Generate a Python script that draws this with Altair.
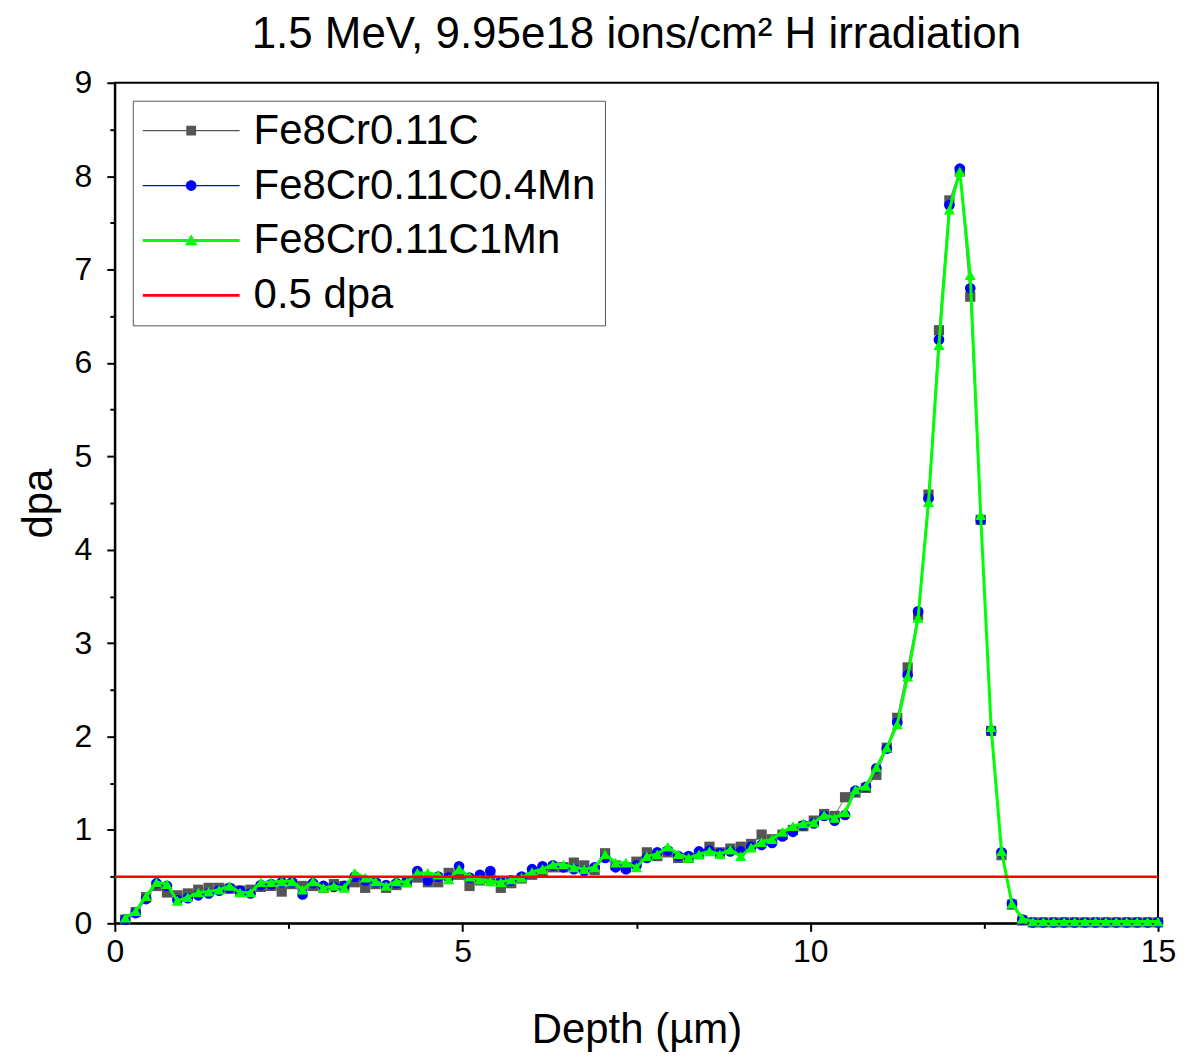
import altair as alt
import pandas as pd

# ---------------- data ----------------
depth = [0.15, 0.30, 0.45, 0.60, 0.75, 0.90, 1.05, 1.20, 1.35, 1.50,
         1.65, 1.80, 1.95, 2.10, 2.25, 2.40, 2.55, 2.70, 2.85, 3.00,
         3.15, 3.30, 3.45, 3.60, 3.75, 3.90, 4.05, 4.20, 4.35, 4.50,
         4.65, 4.80, 4.95, 5.10, 5.25, 5.40, 5.55, 5.70, 5.85, 6.00,
         6.15, 6.30, 6.45, 6.60, 6.75, 6.90, 7.05, 7.20, 7.35, 7.50,
         7.65, 7.80, 7.95, 8.10, 8.25, 8.40, 8.55, 8.70, 8.85, 9.00,
         9.15, 9.30, 9.45, 9.60, 9.75, 9.90, 10.05, 10.20, 10.35, 10.50,
         10.65, 10.80, 10.95, 11.10, 11.25, 11.40, 11.55, 11.70, 11.85, 12.00,
         12.15, 12.30, 12.45, 12.60, 12.75, 12.90, 13.05, 13.20, 13.35, 13.50,
         13.65, 13.80, 13.95, 14.10, 14.25, 14.40, 14.55, 14.70, 14.85, 15.00]

fe8cr_011c = [0.04, 0.12, 0.28, 0.40, 0.33, 0.30, 0.32, 0.36, 0.38, 0.38,
              0.37, 0.35, 0.36, 0.39, 0.40, 0.34, 0.42, 0.40, 0.40, 0.38,
              0.42, 0.40, 0.44, 0.38, 0.42, 0.38, 0.41, 0.44, 0.49, 0.44,
              0.44, 0.54, 0.52, 0.40, 0.46, 0.48, 0.38, 0.43, 0.48, 0.52,
              0.56, 0.60, 0.60, 0.65, 0.62, 0.57, 0.75, 0.62, 0.60, 0.66,
              0.76, 0.72, 0.76, 0.70, 0.70, 0.74, 0.82, 0.76, 0.80, 0.82,
              0.85, 0.95, 0.90, 0.95, 1.00, 1.04, 1.10, 1.17, 1.15, 1.35,
              1.40, 1.45, 1.59, 1.88, 2.20, 2.74, 3.30, 4.59, 6.35, 7.74,
              8.05, 6.71, 4.32, 2.06, 0.73, 0.20, 0.03, 0.01, 0.01, 0.01,
              0.01, 0.01, 0.01, 0.01, 0.01, 0.01, 0.01, 0.01, 0.01, 0.01]

fe8cr_011c_04mn = [0.04, 0.11, 0.26, 0.43, 0.40, 0.25, 0.27, 0.30, 0.32, 0.35,
                   0.38, 0.35, 0.32, 0.41, 0.42, 0.44, 0.44, 0.31, 0.43, 0.40,
                   0.39, 0.40, 0.50, 0.46, 0.44, 0.41, 0.43, 0.45, 0.56, 0.46,
                   0.50, 0.49, 0.61, 0.49, 0.52, 0.56, 0.45, 0.46, 0.50, 0.58,
                   0.61, 0.62, 0.60, 0.58, 0.56, 0.60, 0.70, 0.60, 0.58, 0.62,
                   0.70, 0.76, 0.78, 0.72, 0.72, 0.77, 0.78, 0.75, 0.77, 0.77,
                   0.82, 0.84, 0.86, 0.93, 0.98, 1.05, 1.07, 1.15, 1.10, 1.16,
                   1.42, 1.46, 1.66, 1.87, 2.15, 2.66, 3.34, 4.55, 6.25, 7.69,
                   8.08, 6.80, 4.32, 2.06, 0.76, 0.21, 0.04, 0.01, 0.01, 0.01,
                   0.01, 0.01, 0.01, 0.01, 0.01, 0.01, 0.01, 0.01, 0.01, 0.01]

fe8cr_011c_1mn = [0.06, 0.13, 0.29, 0.44, 0.42, 0.24, 0.28, 0.33, 0.34, 0.36,
                  0.40, 0.33, 0.33, 0.44, 0.44, 0.45, 0.45, 0.36, 0.45, 0.38,
                  0.40, 0.38, 0.54, 0.49, 0.45, 0.40, 0.45, 0.44, 0.54, 0.54,
                  0.52, 0.47, 0.58, 0.50, 0.47, 0.45, 0.44, 0.47, 0.49, 0.55,
                  0.58, 0.63, 0.63, 0.60, 0.58, 0.60, 0.74, 0.65, 0.65, 0.60,
                  0.72, 0.74, 0.82, 0.74, 0.70, 0.74, 0.77, 0.74, 0.79, 0.72,
                  0.81, 0.87, 0.90, 0.98, 1.04, 1.07, 1.08, 1.16, 1.13, 1.19,
                  1.43, 1.47, 1.67, 1.88, 2.13, 2.64, 3.27, 4.51, 6.19, 7.64,
                  8.05, 6.94, 4.37, 2.10, 0.77, 0.21, 0.05, 0.02, 0.02, 0.02,
                  0.02, 0.02, 0.02, 0.02, 0.02, 0.02, 0.02, 0.02, 0.02, 0.02]

series_names = ["Fe8Cr0.11C", "Fe8Cr0.11C0.4Mn", "Fe8Cr0.11C1Mn", "0.5 dpa"]
threshold = 0.5

x_domain = [0, 15]
y_domain = [0, 9]
x_major = [0, 5, 10, 15]
x_minor = [2.5, 7.5, 12.5]
y_major = [0, 1, 2, 3, 4, 5, 6, 7, 8, 9]
y_minor = [0.5, 1.5, 2.5, 3.5, 4.5, 5.5, 6.5, 7.5, 8.5]

title_text = "1.5 MeV, 9.95e18 ions/cm\u00b2 H irradiation"
x_title = "Depth (\u00b5m)"
y_title = "dpa"

# ---------------- style ----------------
FONT = "Liberation Sans"
line_colors = ["#8a8a8a", "#7a7aff", "#00ff00"]
line_widths = [1.2, 1.2, 3]
point_colors = ["#555555", "#0000ff", "#00ff00"]
point_shapes = ["square", "circle", "triangle-up"]
point_sizes = [105, 115, 125]
legend_colors = ["#555555", "#0000ff", "#00ff00", "#ff0000"]
# legend symbols (unit = 20 px): line from -1 to 3.85 with the marker at 1.425
legend_paths = [
    "M-1,-0.03H3.85V0.03H-1Z M1.18,-0.245H1.67V0.245H1.18Z",
    "M-1,-0.03H3.85V0.03H-1Z M1.16,0A0.265,0.265 0 1,1 1.69,0A0.265,0.265 0 1,1 1.16,0Z",
    "M-1,-0.075H3.85V0.075H-1Z M1.425,-0.31L1.74,0.24L1.11,0.24Z",
    "M-1,-0.065H3.85V0.065H-1Z",
]

xs = alt.Scale(domain=x_domain, nice=False, zero=False)
ys = alt.Scale(domain=y_domain, nice=False, zero=False)

common_axis = dict(grid=False, domainColor="black", domainWidth=2, tickColor="black",
                   tickWidth=2, labelColor="black", labelFont=FONT, labelFontSize=32,
                   titleFont=FONT, titleFontSize=42, titleFontWeight="normal",
                   titleColor="black", labelFlush=False, labelOverlap=False)

x_axis = alt.Axis(values=x_major, title=x_title, orient="bottom", tickSize=8,
                  labelPadding=5, titlePadding=42, **common_axis)
y_axis = alt.Axis(values=y_major, title=y_title, orient="left", tickSize=8,
                  labelPadding=15, titlePadding=14, **common_axis)
x_axis_minor = alt.Axis(values=x_minor, title=None, orient="bottom", tickSize=5,
                        labels=False, domain=False, grid=False, tickColor="black",
                        tickWidth=2)
y_axis_minor = alt.Axis(values=y_minor, title=None, orient="left", tickSize=5,
                        labels=False, domain=False, grid=False, tickColor="black",
                        tickWidth=2)

series_values = [fe8cr_011c, fe8cr_011c_04mn, fe8cr_011c_1mn]

layers = []
for i, vals in enumerate(series_values):
    df = pd.DataFrame({"depth": depth, "dpa": vals})
    base = alt.Chart(df).encode(
        x=alt.X("depth:Q", scale=xs, axis=x_axis),
        y=alt.Y("dpa:Q", scale=ys, axis=y_axis),
    )
    layers.append(base.mark_line(color=line_colors[i], strokeWidth=line_widths[i]))
    layers.append(base.mark_point(shape=point_shapes[i], filled=True, opacity=1,
                                  color=point_colors[i], size=point_sizes[i]))

rule_df = pd.DataFrame({"depth": [x_domain[0]], "depth_end": [x_domain[1]], "dpa": [threshold]})
rule = alt.Chart(rule_df).mark_rule(color="#ff0000", strokeWidth=2.5).encode(
    x=alt.X("depth:Q", scale=xs, axis=x_axis),
    x2="depth_end:Q",
    y=alt.Y("dpa:Q", scale=ys, axis=y_axis),
)
layers.append(rule)

main = alt.layer(*layers)

legend = alt.Legend(title=None, orient="none", legendX=18, legendY=18,
                    labelFont=FONT, labelFontSize=42, labelColor="black",
                    labelLimit=800, labelOffset=70, symbolSize=1600,
                    symbolStrokeWidth=0, symbolOpacity=1,
                    strokeColor="#555555", fillColor="white",
                    padding=9, rowPadding=13)

leg_df = pd.DataFrame({"series": series_names,
                       "depth": [x_domain[0]] * 4,
                       "dpa": [y_domain[0]] * 4})
legend_layer = alt.Chart(leg_df).mark_point(filled=True, opacity=0).encode(
    x=alt.X("depth:Q", scale=xs, axis=x_axis_minor),
    y=alt.Y("dpa:Q", scale=ys, axis=y_axis_minor),
    fill=alt.Fill("series:N", scale=alt.Scale(domain=series_names, range=legend_colors),
                  legend=legend, sort=series_names),
    shape=alt.Shape("series:N", scale=alt.Scale(domain=series_names, range=legend_paths),
                    legend=legend, sort=series_names),
)

chart = alt.layer(main, legend_layer).resolve_axis(
    x="independent", y="independent"
).properties(
    width=1045,
    height=842,
    autosize=alt.AutoSizeParams(type="none"),
    padding={"left": 107, "top": 74, "right": 20, "bottom": 132},
    background="white",
    title=alt.TitleParams(text=title_text, fontSize=44, font=FONT, fontWeight="normal",
                          color="black", anchor="middle", offset=10),
).configure_view(stroke="black", strokeWidth=2)

chart.save("out.html", embed_options={"renderer": "svg", "actions": False})
